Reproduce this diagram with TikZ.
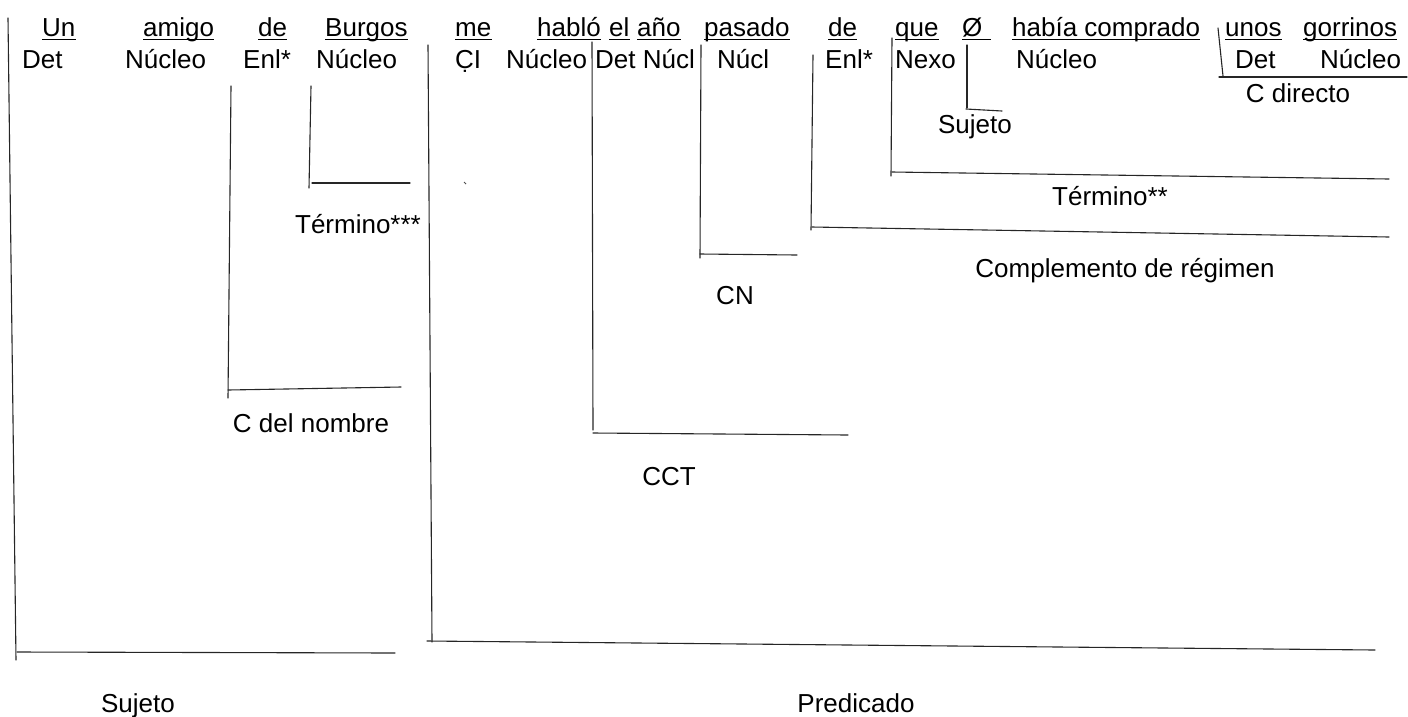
\documentclass[tikz,border=0pt]{standalone}
\usepackage{fontspec}
\setmainfont{Liberation Sans}
\begin{document}
\begin{tikzpicture}[x=1pt,y=-1pt,
  every node/.style={font=\fontsize{26}{30}\selectfont, inner sep=0pt, text=black},
  word/.style={anchor=base west},
  lab/.style={anchor=base},
  ln/.style={line width=1.1pt, black!85, line cap=round},
  ul/.style={line width=1.3pt, black}]
\useasboundingbox (0,0) rectangle (1408,716);
% sentence row
\node[word] (w1) at (42,36) {Un};
\node[word] (w2) at (143,36) {amigo};
\node[word] (w3) at (258,36) {de};
\node[word] (w4) at (325,36) {Burgos};
\node[word] (w5) at (455,36) {me};
\node[word] (w6) at (537,36) {habló};
\node[word] (w7) at (609,36) {el};
\node[word] (w8) at (637,36) {año};
\node[word] (w9) at (704,36) {pasado};
\node[word] (w10) at (828,36) {de};
\node[word] (w11) at (895,36) {que};
\node[word] (w12) at (962,36) {Ø\hspace*{8pt}};
\node[word] (w13) at (1012,36) {había comprado};
\node[word] (w14) at (1225,36) {unos};
\node[word] (w15) at (1303,36) {gorrinos};
\foreach \n in {w1,w2,w3,w4,w5,w6,w7,w8,w9,w10,w11,w12,w13,w14,w15}
  \draw[ul] ([yshift=-3.5pt]\n.base west) -- ([yshift=-3.5pt]\n.base east);
% function row
\node[word] (f1) at (22,68) {Det};
\node[word] (f2) at (125,68) {Núcleo};
\node[word] (f3) at (243,68) {Enl*};
\node[word] (f4) at (316,68) {Núcleo};
\node[word] (f5) at (455,68) {\d{C}I};
\node[word] (f6) at (506,68) {Núcleo};
\node[word] (f7) at (595,68) {Det Núcl};
\node[word] (f8) at (717,68) {Núcl};
\node[word] (f9) at (825,68) {Enl*};
\node[word] (f10) at (895,68) {Nexo};
\node[word] (f11) at (1016,68) {Núcleo};
\node[word] (f12) at (1235,68) {Det};
\node[word] (f13) at (1320,68) {Núcleo};
% labels
\node[lab] (lcd) at (1298,102) {C directo};
\node[lab] (lsj2) at (975,133) {Sujeto};
\node[lab] (lt2) at (1110,205) {Término**};
\node[lab] (lt3) at (358,233) {Término***};
\node[lab] (lcr) at (1125,277) {Complemento de régimen};
\node[lab] (lcn) at (735,304) {CN};
\node[lab] (lcdn) at (311,432) {C del nombre};
\node[lab] (lcct) at (669,485) {CCT};
\node[lab] (lsj) at (138,712) {Sujeto};
\node[lab] (lpr) at (856,712) {Predicado};
% brackets
\draw[ln] (8,18) -- (16,660);
\draw[ln] (17,652) -- (395,653);
\draw[ln] (231,86) -- (228,398);
\draw[ln] (228,390) -- (401,387);
\draw[ln] (311,86) -- (309,188);
\draw[ln] (312,183) -- (410,183);
\draw[line width=0.8pt, black!70] (464,182) -- (466,184);
\draw[ln] (428,45) -- (432,642);
\draw[ln] (427,641) -- (1375,650);
\draw[ln] (592,42) -- (593,430);
\draw[ln] (593,433) -- (848,435);
\draw[ln] (701,45) -- (700,258);
\draw[ln] (700,254) -- (797,255);
\draw[ln] (813,55) -- (811,230);
\draw[ln] (812,227) -- (1389,237);
\draw[ln] (892,38) -- (891,176);
\draw[ln] (892,172) -- (1389,179);
\draw[ln] (967,45) -- (967,108);
\draw[ln] (966,109) -- (1002,111);
\draw[ln] (1218,28) -- (1223,76);
\draw[ln] (1219,77) -- (1407,77);
\end{tikzpicture}
\end{document}
